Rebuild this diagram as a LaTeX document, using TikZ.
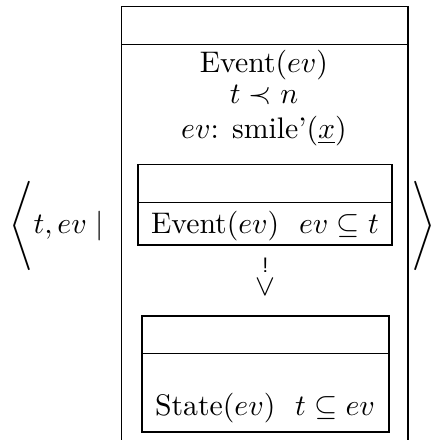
\documentclass[tikz,border=0pt]{standalone}
\usepackage{amsmath,amssymb}
\usepackage{tikz}
\usetikzlibrary{positioning}

\begin{document}
\begin{tikzpicture}[x=0.336pt, y=-0.336pt, every node/.style={inner sep=0pt},
  box/.style={draw=black, line width=0.4pt}, cond/.style={anchor=base}]
\useasboundingbox (0,0) rectangle (436,440);
% outer box, open at the bottom
\draw[box] (121.5,440) |- (408,6.5) -- (408,440);
\draw[box] (121.5,44.5) -- (408,44.5);
% conditions of the outer box
\node[cond] (event) at (264,72) {Event($ev$)};
\node[cond] (prec) at (264,103.5) {$t \prec n$};
\node[cond] (smile) at (264,138) {$ev$: smile'($\underline{x}$)};
% antecedent box
\draw[box] (138,164.5) rectangle (392,245);
\draw[box] (138,202.5) -- (392,202.5);
\node[cond] (ante) at (265,233) {Event($ev$)~~$ev \subseteq t$};
% the ! mark between the two boxes
\node[align=center] (bang) at (265.3,276.5) {{\scriptsize\textsf{!}}\\[-4.3pt]$\vee$};
% consequent box
\draw[box] (142,316) rectangle (389,432);
\draw[box] (142,353.5) -- (389,353.5);
\node[cond] (cons) at (265,415) {State($ev$)~~$t \subseteq ev$};
% brackets round the whole thing
\node[anchor=base west] (lhs) at (9,233) {$\Bigg\langle t, ev \mid$};
\node[anchor=base east] (rhs) at (436,233) {$\Bigg\rangle$};
\end{tikzpicture}
\end{document}
